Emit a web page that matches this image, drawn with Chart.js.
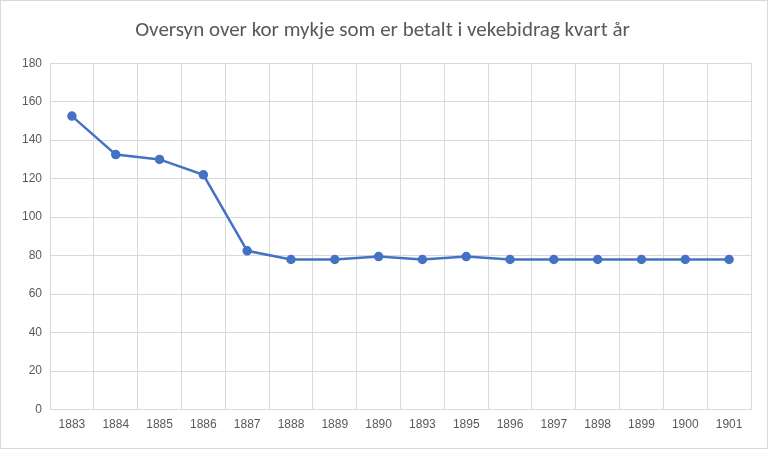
<!DOCTYPE html>
<html><head><meta charset="utf-8">
<script src="https://cdn.jsdelivr.net/npm/chart.js@4"></script>
<style>
html,body{margin:0;padding:0;background:#fff;}
#wrap{width:766px;height:447px;border:1px solid #d9d9d9;}
</style></head><body>
<div id="wrap"><canvas id="c" width="766" height="447"></canvas></div>
<script>
const years = ['1883','1884','1885','1886','1887','1888','1889','1890','1893','1895','1896','1897','1898','1899','1900','1901'];
const paid = [152.5,132.5,130,122,82.5,78,78,79.5,78,79.5,78,78,78,78,78,78];
const titleText = 'Oversyn over kor mykje som er betalt i vekebidrag kvart år';

new Chart(document.getElementById('c'), {
  type: 'line',
  data: {
    labels: years,
    datasets: [{
      data: paid,
      borderColor: '#4472c4',
      backgroundColor: '#4472c4',
      borderWidth: 2.5,
      pointRadius: 3.5,
      tension: 0
    }]
  },
  options: {
    responsive: false,
    animation: false,
    layout: { padding: { left: 13, right: 16, top: 9, bottom: 8 } },
    plugins: {
      legend: { display: false },
      title: {
        display: true, text: titleText, color: '#595959',
        font: { family: 'Calibri, Carlito, "Open Sans", sans-serif', size: 21, weight: 'normal' },
        padding: { top: 8, bottom: 20 }
      }
    },
    scales: {
      x: {
        offset: true,
        grid: { offset: true, color: '#d9d9d9', drawTicks: false },
        border: { color: '#d9d9d9' },
        ticks: { color: '#595959', font: { size: 12 }, padding: 8, maxRotation: 0 }
      },
      y: {
        min: 0, max: 180,
        ticks: { stepSize: 20, color: '#595959', font: { size: 12 }, padding: 8 },
        grid: { color: '#d9d9d9', drawTicks: false },
        border: { display: false }
      }
    }
  }
});
</script>
</body></html>
